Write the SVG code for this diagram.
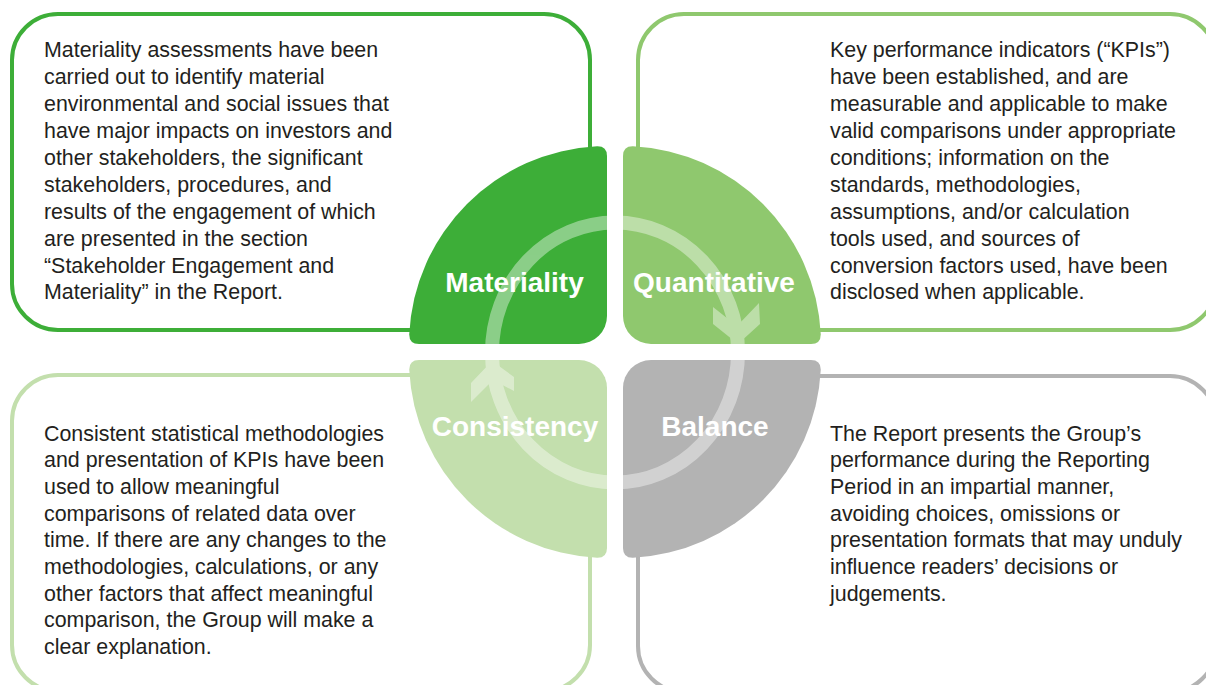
<svg xmlns="http://www.w3.org/2000/svg" width="1206" height="685" viewBox="0 0 1206 685">
  <style>
    .box { fill: #ffffff; stroke-width: 4; }
    .body { font-family: "Liberation Sans", Arial, Helvetica, sans-serif; font-size: 21.4px; fill: #231f20; }
    .label { font-family: "Liberation Sans", Arial, Helvetica, sans-serif; font-size: 28px; font-weight: bold; fill: #ffffff; text-anchor: middle; }
  </style>
  <rect width="1206" height="685" fill="#ffffff"/>

  <g id="node-materiality">
    <rect class="box" x="12" y="14" width="578" height="316" rx="46" ry="46" stroke="#3dae38"/>
    <path d="M607,156 L607,316 A28,28 0 0 1 579,344 L419,344 Q409,344 409.25,334 A198,198 0 0 1 597,146.25 Q607,146 607,156 Z" fill="#3dae38"/>
    <text class="label" x="514.5" y="292">Materiality</text>
    <text class="body" x="44">
      <tspan x="44" y="57.3">Materiality assessments have been</tspan>
      <tspan x="44" y="84.2">carried out to identify material</tspan>
      <tspan x="44" y="111.1">environmental and social issues that</tspan>
      <tspan x="44" y="138">have major impacts on investors and</tspan>
      <tspan x="44" y="164.9">other stakeholders, the significant</tspan>
      <tspan x="44" y="191.8">stakeholders, procedures, and</tspan>
      <tspan x="44" y="218.7">results of the engagement of which</tspan>
      <tspan x="44" y="245.6">are presented in the section</tspan>
      <tspan x="44" y="272.5">“Stakeholder Engagement and</tspan>
      <tspan x="44" y="299.4">Materiality” in the Report.</tspan>
    </text>
  </g>

  <g id="node-quantitative">
    <rect class="box" x="638" y="14" width="578" height="316" rx="46" ry="46" stroke="#8fc86e"/>
    <path d="M623,156 Q623,146 633,146.25 A198,198 0 0 1 820.75,334 Q821,344 811,344 L651,344 A28,28 0 0 1 623,316 Z" fill="#8fc86e"/>
    <text class="label" x="714" y="292">Quantitative</text>
    <text class="body" x="830">
      <tspan x="830" y="57.3">Key performance indicators (“KPIs”)</tspan>
      <tspan x="830" y="84.2">have been established, and are</tspan>
      <tspan x="830" y="111.1">measurable and applicable to make</tspan>
      <tspan x="830" y="138">valid comparisons under appropriate</tspan>
      <tspan x="830" y="164.9">conditions; information on the</tspan>
      <tspan x="830" y="191.8">standards, methodologies,</tspan>
      <tspan x="830" y="218.7">assumptions, and/or calculation</tspan>
      <tspan x="830" y="245.6">tools used, and sources of</tspan>
      <tspan x="830" y="272.5">conversion factors used, have been</tspan>
      <tspan x="830" y="299.4">disclosed when applicable.</tspan>
    </text>
  </g>

  <g id="node-consistency">
    <rect class="box" x="12" y="375" width="578" height="316" rx="46" ry="46" stroke="#c3dfad"/>
    <path d="M419,360 L579,360 A28,28 0 0 1 607,388 L607,548 Q607,558 597,557.75 A198,198 0 0 1 409.25,370 Q409,360 419,360 Z" fill="#c3dfad"/>
    <text class="label" x="515" y="436">Consistency</text>
    <text class="body" x="44">
      <tspan x="44" y="440.5">Consistent statistical methodologies</tspan>
      <tspan x="44" y="467.2">and presentation of KPIs have been</tspan>
      <tspan x="44" y="493.9">used to allow meaningful</tspan>
      <tspan x="44" y="520.6">comparisons of related data over</tspan>
      <tspan x="44" y="547.3">time. If there are any changes to the</tspan>
      <tspan x="44" y="574">methodologies, calculations, or any</tspan>
      <tspan x="44" y="600.7">other factors that affect meaningful</tspan>
      <tspan x="44" y="627.4">comparison, the Group will make a</tspan>
      <tspan x="44" y="654.1">clear explanation.</tspan>
    </text>
  </g>

  <g id="node-balance">
    <rect class="box" x="638" y="376" width="578" height="316" rx="46" ry="46" stroke="#b3b3b3"/>
    <path d="M651,360 L811,360 Q821,360 820.75,370 A198,198 0 0 1 633,557.75 Q623,558 623,548 L623,388 A28,28 0 0 1 651,360 Z" fill="#b3b3b3"/>
    <text class="label" x="715" y="436">Balance</text>
    <text class="body" x="830">
      <tspan x="830" y="440.5">The Report presents the Group’s</tspan>
      <tspan x="830" y="467.2">performance during the Reporting</tspan>
      <tspan x="830" y="493.9">Period in an impartial manner,</tspan>
      <tspan x="830" y="520.6">avoiding choices, omissions or</tspan>
      <tspan x="830" y="547.3">presentation formats that may unduly</tspan>
      <tspan x="830" y="574">influence readers’ decisions or</tspan>
      <tspan x="830" y="600.7">judgements.</tspan>
    </text>
  </g>

  <g id="connectors" opacity="0.4">
    <ellipse cx="615" cy="352.5" rx="123" ry="130" fill="none" stroke="#ffffff" stroke-width="14"/>
    <path d="M713,307 L737,326 L759,303 L760,324 L738,344 L713,324 Z" fill="#ffffff"/>
    <path d="M492,361 L514,377 L514,391 L493,380 L471,402 L471,383 Z" fill="#ffffff"/>
  </g>
</svg>
